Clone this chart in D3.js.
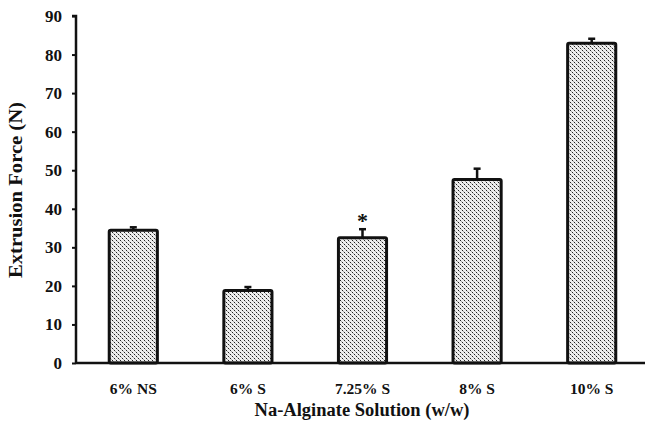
<!DOCTYPE html>
<html>
<head>
<meta charset="utf-8">
<script src="https://cdn.jsdelivr.net/npm/d3@7"></script>
<style>
  body { margin: 0; background: #fff; }
  text { font-family: "Liberation Serif", "Times New Roman", serif; font-weight: bold; fill: #111; }
</style>
</head>
<body>
<svg id="chart" width="645" height="429"></svg>
<script>
var categories = ["6% NS", "6% S", "7.25% S", "8% S", "10% S"];
var means = [34.4, 18.8, 32.5, 47.6, 82.9];
var errors = [0.8, 0.9, 2.2, 2.8, 1.2];
var marks = ["", "", "*", "", ""];
var yTicks = [0, 10, 20, 30, 40, 50, 60, 70, 80, 90];

var svg = d3.select("#chart");

// stipple fill
var pat = svg.append("defs").append("pattern")
    .attr("id", "dots")
    .attr("patternUnits", "userSpaceOnUse")
    .attr("width", 4).attr("height", 4);
pat.append("rect").attr("width", 4).attr("height", 4).attr("fill", "#eee");
pat.append("rect").attr("x", 0).attr("y", 0).attr("width", 1).attr("height", 1).attr("fill", "#222");
pat.append("rect").attr("x", 2).attr("y", 2).attr("width", 1).attr("height", 1).attr("fill", "#222");
pat.append("rect").attr("x", 1).attr("y", 1).attr("width", 1).attr("height", 1).attr("fill", "#aaa");
pat.append("rect").attr("x", 3).attr("y", 3).attr("width", 1).attr("height", 1).attr("fill", "#aaa");

var x = d3.scaleBand().domain(categories).range([76, 649]).paddingInner(0.58).paddingOuter(0.29);
var y = d3.scaleLinear().domain([0, 90]).range([363, 16]);

// bars
svg.selectAll("rect.bar").data(means).enter().append("rect")
    .attr("class", "bar")
    .attr("x", function(d, i) { return x(categories[i]); })
    .attr("y", function(d) { return y(d); })
    .attr("width", x.bandwidth())
    .attr("height", function(d) { return y(0) - y(d); })
    .attr("rx", 1.5)
    .attr("fill", "url(#dots)")
    .attr("stroke", "#111")
    .attr("stroke-width", 3);

// error bars (upper only)
svg.selectAll("line.err").data(means).enter().append("line")
    .attr("x1", function(d, i) { return x(categories[i]) + x.bandwidth() / 2; })
    .attr("x2", function(d, i) { return x(categories[i]) + x.bandwidth() / 2; })
    .attr("y1", function(d) { return y(d); })
    .attr("y2", function(d, i) { return y(d + errors[i]); })
    .attr("stroke", "#111").attr("stroke-width", 2.5);
svg.selectAll("line.cap").data(means).enter().append("line")
    .attr("x1", function(d, i) { return x(categories[i]) + x.bandwidth() / 2 - 3.5; })
    .attr("x2", function(d, i) { return x(categories[i]) + x.bandwidth() / 2 + 3.5; })
    .attr("y1", function(d, i) { return y(d + errors[i]); })
    .attr("y2", function(d, i) { return y(d + errors[i]); })
    .attr("stroke", "#111").attr("stroke-width", 2.5);

// significance marks
svg.selectAll("text.mark").data(means).enter().append("text")
    .attr("x", function(d, i) { return x(categories[i]) + x.bandwidth() / 2; })
    .attr("y", function(d, i) { return y(d + errors[i]) - 1; })
    .attr("text-anchor", "middle")
    .style("font-size", "22px")
    .text(function(d, i) { return marks[i]; });

// axes
var yAxis = svg.append("g").attr("transform", "translate(76,0)")
    .call(d3.axisLeft(y).tickValues(yTicks).tickSize(4).tickPadding(10));
yAxis.select(".domain").attr("stroke", "#111").attr("stroke-width", 2.5).attr("d", "M-4,16H0V363");
yAxis.selectAll(".tick line").attr("stroke", "#111").attr("stroke-width", 2);
yAxis.selectAll(".tick text").style("font-size", "17px").style("font-family", "Liberation Serif, serif").style("font-weight", "bold").attr("fill", "#111");

var xAxis = svg.append("g").attr("transform", "translate(0,363)")
    .call(d3.axisBottom(x).tickSize(0).tickPadding(20));
xAxis.select(".domain").attr("stroke", "#111").attr("stroke-width", 2.5).attr("d", "M76,0H645");
xAxis.selectAll(".tick text").style("font-size", "15.5px").style("font-family", "Liberation Serif, serif").style("font-weight", "bold").attr("fill", "#111");

// titles
svg.append("text")
    .attr("transform", "translate(22,190) rotate(-90)")
    .attr("text-anchor", "middle")
    .attr("textLength", 176)
    .attr("lengthAdjust", "spacingAndGlyphs")
    .style("font-size", "18px")
    .text("Extrusion Force (N)");
svg.append("text")
    .attr("x", 362).attr("y", 416)
    .attr("text-anchor", "middle")
    .style("font-size", "18.5px")
    .text("Na-Alginate Solution (w/w)");
</script>
</body>
</html>
